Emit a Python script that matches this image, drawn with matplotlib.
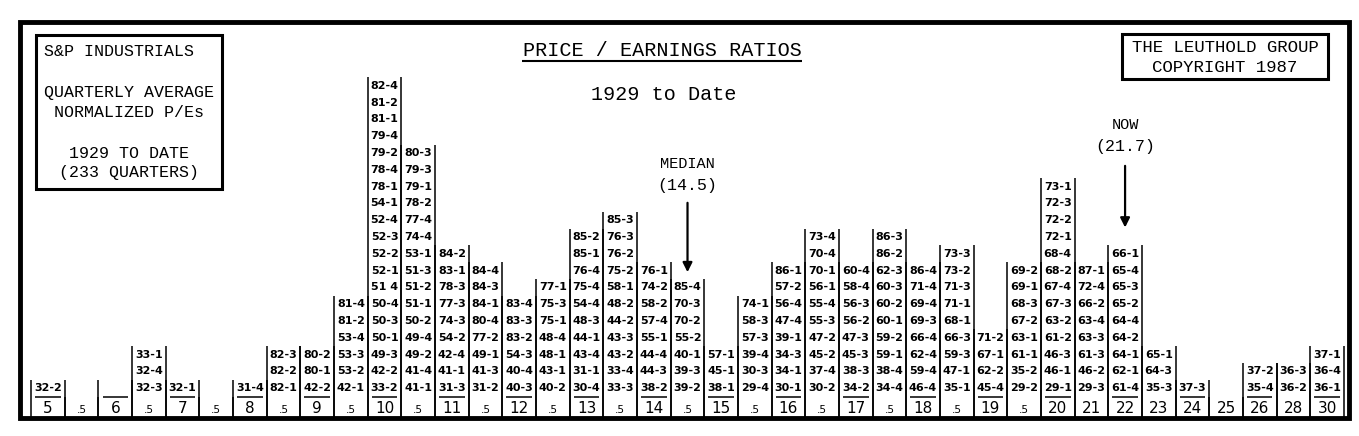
import matplotlib.pyplot as plt
from matplotlib.patches import Rectangle

# P/E bins along the bottom of the chart
bins = ["5", ".5", "6", ".5", "7", ".5", "8", ".5", "9", ".5", "10", ".5",
        "11", ".5", "12", ".5", "13", ".5", "14", ".5", "15", ".5", "16", ".5",
        "17", ".5", "18", ".5", "19", ".5", "20", "21", "22", "23", "24", "25",
        "26", "28", "30"]

# year-quarter of each reading, top to bottom as printed in each column
quarters = [
    ["32-2"],
    [],
    [],
    ["33-1", "32-4", "32-3"],
    ["32-1"],
    [],
    ["31-4"],
    ["82-3", "82-2", "82-1"],
    ["80-2", "80-1", "42-2"],
    ["81-4", "81-2", "53-4", "53-3", "53-2", "42-1"],
    ["82-4", "81-2", "81-1", "79-4", "79-2", "78-4", "78-1", "54-1", "52-4", "52-3",
     "52-2", "52-1", "51 4", "50-4", "50-3", "50-1", "49-3", "42-2", "33-2"],
    ["80-3", "79-3", "79-1", "78-2", "77-4", "74-4", "53-1", "51-3", "51-2", "51-1",
     "50-2", "49-4", "49-2", "41-4", "41-1"],
    ["84-2", "83-1", "78-3", "77-3", "74-3", "54-2", "42-4", "41-1", "31-3"],
    ["84-4", "84-3", "84-1", "80-4", "77-2", "49-1", "41-3", "31-2"],
    ["83-4", "83-3", "83-2", "54-3", "40-4", "40-3"],
    ["77-1", "75-3", "75-1", "48-4", "48-1", "43-1", "40-2"],
    ["85-2", "85-1", "76-4", "75-4", "54-4", "48-3", "44-1", "43-4", "31-1", "30-4"],
    ["85-3", "76-3", "76-2", "75-2", "58-1", "48-2", "44-2", "43-3", "43-2", "33-4", "33-3"],
    ["76-1", "74-2", "58-2", "57-4", "55-1", "44-4", "44-3", "38-2"],
    ["85-4", "70-3", "70-2", "55-2", "40-1", "39-3", "39-2"],
    ["57-1", "45-1", "38-1"],
    ["74-1", "58-3", "57-3", "39-4", "30-3", "29-4"],
    ["86-1", "57-2", "56-4", "47-4", "39-1", "34-3", "34-1", "30-1"],
    ["73-4", "70-4", "70-1", "56-1", "55-4", "55-3", "47-2", "45-2", "37-4", "30-2"],
    ["60-4", "58-4", "56-3", "56-2", "47-3", "45-3", "38-3", "34-2"],
    ["86-3", "86-2", "62-3", "60-3", "60-2", "60-1", "59-2", "59-1", "38-4", "34-4"],
    ["86-4", "71-4", "69-4", "69-3", "66-4", "62-4", "59-4", "46-4"],
    ["73-3", "73-2", "71-3", "71-1", "68-1", "66-3", "59-3", "47-1", "35-1"],
    ["71-2", "67-1", "62-2", "45-4"],
    ["69-2", "69-1", "68-3", "67-2", "63-1", "61-1", "35-2", "29-2"],
    ["73-1", "72-3", "72-2", "72-1", "68-4", "68-2", "67-4", "67-3", "63-2", "61-2",
     "46-3", "46-1", "29-1"],
    ["87-1", "72-4", "66-2", "63-4", "63-3", "61-3", "46-2", "29-3"],
    ["66-1", "65-4", "65-3", "65-2", "64-4", "64-2", "64-1", "62-1", "61-4"],
    ["65-1", "64-3", "35-3"],
    ["37-3"],
    [],
    ["37-2", "35-4"],
    ["36-3", "36-2"],
    ["37-1", "36-4", "36-1"],
]

# whole-number bins that carry a rule under the lowest entry
underlined = ["5", "6", "7", "8", "9", "10", "11", "12", "13", "14", "15", "16",
              "17", "18", "19", "20", "22", "24", "26", "30"]

median_bin = bins.index("14") + 1
now_bin = bins.index("22")

mono = "Liberation Mono"
small = ["Liberation Sans Narrow", "DejaVu Sans"]

fig = plt.figure(figsize=(13.59, 4.36), dpi=100, facecolor="white")

# stem-and-leaf columns, x = bin number, y = row number
ax = fig.add_axes([0, 0, 1, 1])
ax.set_xlim(-1.426, 38.95)
ax.set_ylim(-1.845, 24.107)
ax.axis("off")

for i, col in enumerate(quarters):
    n = len(col)
    is_ul = i != 1 and bins[i] in underlined
    h = n if n else (1 if is_ul else 0)
    ax.vlines([i - 0.5, i + 0.5], -0.77, h + 0.5, color="black", lw=1.1)
    for k, q in enumerate(reversed(col)):
        ax.text(i, k + 1, q, ha="center", va="center", fontsize=8,
                weight="bold", family=small)
    lab = bins[i]
    ax.text(i, -0.5, lab, ha="center", va="baseline",
            fontsize=7.5 if lab == ".5" else 11, family=small)
    if is_ul:
        ax.hlines(0.5, i - 0.38, i + 0.38, color="black", lw=1.1)

arrow = dict(arrowstyle="-|>", color="black", lw=1.6, mutation_scale=14)
ax.annotate("", xy=(median_bin, 7.74), xytext=(median_bin, 12.2), arrowprops=arrow)
ax.text(median_bin, 14.35, "MEDIAN", ha="center", va="center", fontsize=11, family=mono)
ax.text(median_bin, 13.04, "(14.5)", ha="center", va="center", fontsize=12, family=mono)
ax.annotate("", xy=(now_bin, 10.4), xytext=(now_bin, 14.4), arrowprops=arrow)
ax.text(now_bin, 16.67, "NOW", ha="center", va="center", fontsize=11, family=mono)
ax.text(now_bin, 15.36, "(21.7)", ha="center", va="center", fontsize=12, family=mono)

# frame and header, in pixel units
hd = fig.add_axes([0, 0, 1, 1])
hd.set_xlim(0, 1359)
hd.set_ylim(436, 0)
hd.axis("off")
hd.add_patch(Rectangle((20, 22), 1329, 396, fill=False, lw=3.5, ec="black"))
hd.add_patch(Rectangle((36, 35), 186, 154, fill=False, lw=2.2, ec="black"))
hd.add_patch(Rectangle((1122, 34), 206, 45, fill=False, lw=2.2, ec="black"))

hd.text(44, 51, "S&P INDUSTRIALS", ha="left", va="center", fontsize=12, family=mono)
hd.text(129, 92, "QUARTERLY AVERAGE", ha="center", va="center", fontsize=12, family=mono)
hd.text(129, 112, "NORMALIZED P/Es", ha="center", va="center", fontsize=12, family=mono)
hd.text(129, 153, "1929 TO DATE", ha="center", va="center", fontsize=12, family=mono)
hd.text(129, 172, "(233 QUARTERS)", ha="center", va="center", fontsize=12, family=mono)

hd.text(662, 50, "PRICE / EARNINGS RATIOS", ha="center", va="center", fontsize=14.5, family=mono)
hd.hlines(61, 522, 802, color="black", lw=1.5)
hd.text(664, 94, "1929 to Date", ha="center", va="center", fontsize=14.5, family=mono)

hd.text(1225, 47, "THE LEUTHOLD GROUP", ha="center", va="center", fontsize=12.5, family=mono)
hd.text(1225, 68, "COPYRIGHT 1987", ha="center", va="center", fontsize=12.5, family=mono)

fig.savefig("out.png", dpi=100, facecolor="white")
